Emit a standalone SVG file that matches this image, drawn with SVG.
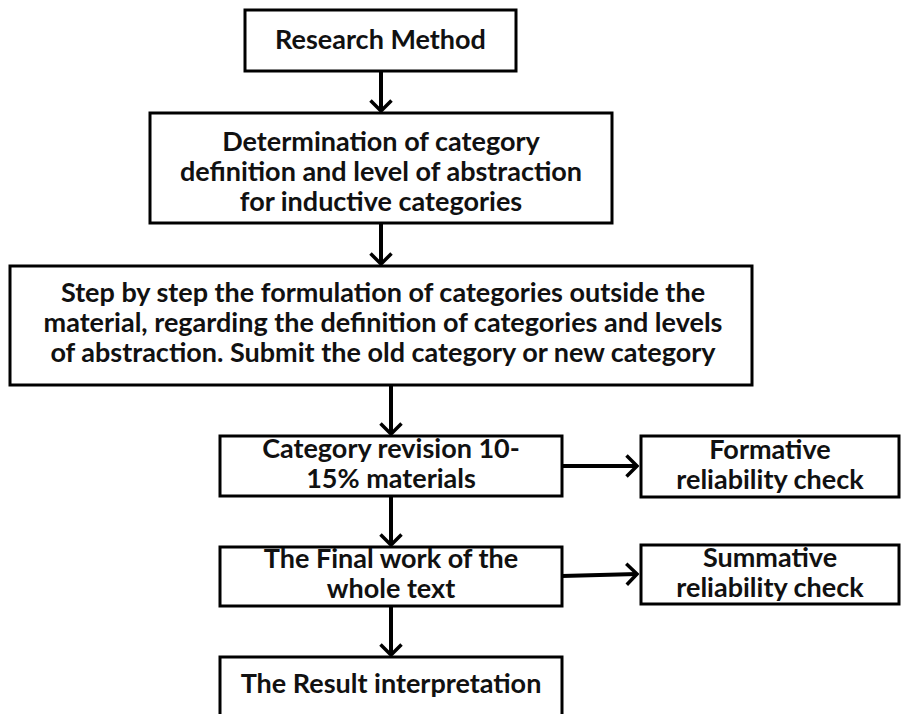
<svg xmlns="http://www.w3.org/2000/svg" width="901" height="714" viewBox="0 0 901 714">
<style>
.box{fill:#fff;stroke:#000;stroke-width:3}
.t{font-family:Lato,"Liberation Sans",sans-serif;font-weight:bold;font-size:27px;fill:#111;text-anchor:middle}
.c{stroke:#000;stroke-width:4;fill:none}
</style>
<defs>
<marker id="ah" viewBox="0 0 14 24" refX="12" refY="12" markerWidth="14" markerHeight="24" markerUnits="userSpaceOnUse" orient="auto">
<path d="M1.5,1.5 L12,12 L1.5,22.5" fill="none" stroke="#000" stroke-width="3.5"/>
</marker>
</defs>
<rect width="901" height="714" fill="#fff"/>
<g id="connectors">
<line class="c" x1="381" y1="71" x2="381" y2="111" marker-end="url(#ah)"/>
<line class="c" x1="381" y1="223" x2="381" y2="264" marker-end="url(#ah)"/>
<line class="c" x1="391" y1="385" x2="391" y2="434" marker-end="url(#ah)"/>
<line class="c" x1="562" y1="466" x2="637" y2="466" marker-end="url(#ah)"/>
<line class="c" x1="391" y1="496" x2="391" y2="545" marker-end="url(#ah)"/>
<line class="c" x1="562" y1="576" x2="637" y2="574" marker-end="url(#ah)"/>
<line class="c" x1="391" y1="606" x2="391" y2="655" marker-end="url(#ah)"/>
</g>
<g id="n1"><rect class="box" x="245" y="10" width="271" height="61"/><text class="t" x="380.5" y="49">Research Method</text></g>
<g id="n2"><rect class="box" x="150" y="113" width="462" height="110"/>
<text class="t" x="381" y="151">Determination of category</text>
<text class="t" x="381" y="181">definition and level of abstraction</text>
<text class="t" x="381" y="211">for inductive categories</text></g>
<g id="n3"><rect class="box" x="10" y="266" width="742" height="119"/>
<text class="t" x="383" y="302">Step by step the formulation of categories outside the</text>
<text class="t" x="383" y="332">material, regarding the definition of categories and levels</text>
<text class="t" x="383" y="362">of abstraction. Submit the old category or new category</text></g>
<g id="n4"><rect class="box" x="220" y="436" width="342" height="60"/>
<text class="t" x="391" y="458">Category revision 10-</text>
<text class="t" x="391" y="488">15% materials</text></g>
<g id="n5"><rect class="box" x="641" y="436" width="258" height="61"/>
<text class="t" x="770" y="459">Formative</text>
<text class="t" x="770" y="489">reliability check</text></g>
<g id="n6"><rect class="box" x="220" y="547" width="342" height="59"/>
<text class="t" x="391" y="568">The Final work of the</text>
<text class="t" x="391" y="598">whole text</text></g>
<g id="n7"><rect class="box" x="641" y="545" width="258" height="59"/>
<text class="t" x="770" y="567">Summative</text>
<text class="t" x="770" y="597">reliability check</text></g>
<g id="n8"><rect class="box" x="220" y="657" width="342" height="70"/>
<text class="t" x="391" y="693">The Result interpretation</text></g>
</svg>
